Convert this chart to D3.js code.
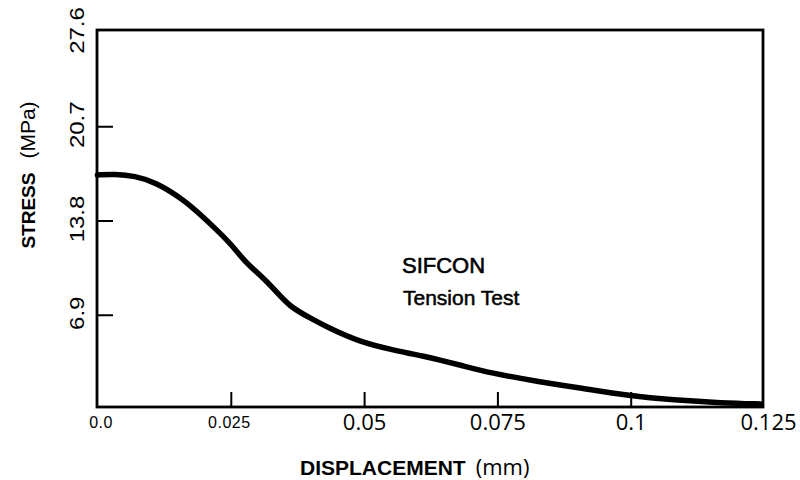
<!DOCTYPE html>
<html><head><meta charset="utf-8">
<script src="https://cdn.jsdelivr.net/npm/d3@7"></script>
<style>body{margin:0;background:#fff}svg{display:block}</style>
</head><body>
<svg id="c" width="800" height="480"></svg>
<script>
// Data
const displacement = [0, 0.0033, 0.0070, 0.0108, 0.0164, 0.0220, 0.0249, 0.0277, 0.0305, 0.0333, 0.0361, 0.0399, 0.0430, 0.0492, 0.0554, 0.0618, 0.0642, 0.0680, 0.0736, 0.0830, 0.0905, 0.0999, 0.1079, 0.1173, 0.1243];
const stress = [17.13, 17.20, 17.06, 16.62, 15.30, 13.25, 12.14, 10.76, 9.81, 8.71, 7.47, 6.66, 6.00, 4.90, 4.32, 3.81, 3.59, 3.22, 2.64, 1.98, 1.54, 0.95, 0.66, 0.44, 0.37];
const xTicks = [0, 0.025, 0.05, 0.075, 0.1, 0.125];
const xTickLabels = ["0.0", "0.025", "0.05", "0.075", "0.1", "0.125"];
const yTicks = [6.9, 13.8, 20.7, 27.6];
const yTickLabels = ["6.9", "13.8", "20.7", "27.6"];
const annotation = ["SIFCON", "Tension Test"];

const svg = d3.select("#c");
const x = d3.scaleLinear().domain([0, 0.125]).range([97.5, 764]);
const y = d3.scaleLinear().domain([0, 27.6]).range([409, 32]);

// frame
svg.append("rect").attr("x", 97).attr("y", 30).attr("width", 666).attr("height", 377)
  .attr("fill", "none").attr("stroke", "#000").attr("stroke-width", 2.8);

// x axis (inward ticks)
const xa = svg.append("g").attr("transform", "translate(0,407)")
  .call(d3.axisBottom(x).tickValues(xTicks).tickSize(-15).tickPadding(0)
    .tickFormat((d, i) => xTickLabels[i]));
xa.select(".domain").remove();
xa.selectAll(".tick line").attr("stroke", "#000").attr("stroke-width", 2)
  .attr("display", (d, i) => (i === 0 || i === xTicks.length - 1) ? "none" : null);
xa.selectAll(".tick text")
  .attr("fill", "#000")
  .attr("font-family", (d, i) => i < 2 ? "Liberation Sans, Arial, sans-serif" : "Open Sans, sans-serif")
  .attr("font-size", (d, i) => i < 2 ? 16 : 22)
  .attr("letter-spacing", (d, i) => i < 2 ? 0.5 : 0)
  .attr("dy", null)
  .attr("y", (d, i) => i < 2 ? 21 : 23)
  .attr("dx", (d, i) => i === 0 ? 3 : (i === 1 ? -2 : (i === 5 ? 4 : 0)));

// y axis (inward ticks, rotated labels)
const ya = svg.append("g").attr("transform", "translate(97,0)")
  .call(d3.axisLeft(y).tickValues(yTicks).tickSize(-16).tickPadding(0)
    .tickFormat((d, i) => yTickLabels[i]));
ya.select(".domain").remove();
ya.selectAll(".tick line").attr("stroke", "#000").attr("stroke-width", 2)
  .attr("display", (d, i) => i === yTicks.length - 1 ? "none" : null);
ya.selectAll(".tick text")
  .attr("fill", "#000")
  .attr("font-family", "Liberation Sans, Arial, sans-serif")
  .attr("font-size", 20)
  .attr("text-anchor", "middle")
  .attr("x", null).attr("dy", null)
  .attr("transform", "translate(-13,-2) rotate(-90) scale(1.2,1)");

// curve
svg.append("path")
  .datum(displacement.map((d, i) => [d, stress[i]]))
  .attr("fill", "none").attr("stroke", "#000").attr("stroke-width", 5.5)
  .attr("stroke-linejoin", "round").attr("stroke-linecap", "round")
  .attr("d", d3.line().x(d => x(d[0])).y(d => y(d[1])).curve(d3.curveBasis));

// annotation
svg.append("text").attr("x", 402).attr("y", 273)
  .attr("font-family", "Liberation Sans, Arial, sans-serif").attr("font-size", 22)
  .attr("fill", "#000").attr("stroke", "#000").attr("stroke-width", 0.6).text(annotation[0]);
svg.append("text").attr("x", 403).attr("y", 305)
  .attr("font-family", "Liberation Sans, Arial, sans-serif").attr("font-size", 21)
  .attr("fill", "#000").attr("stroke", "#000").attr("stroke-width", 0.5).text(annotation[1]);

// axis titles
const yt = svg.append("text").attr("transform", "translate(35,175) rotate(-90)")
  .attr("text-anchor", "middle").attr("font-family", "Liberation Sans, Arial, sans-serif")
  .attr("fill", "#000");
yt.append("tspan").attr("font-weight", "bold").attr("font-size", 19).text("STRESS");
yt.append("tspan").attr("font-size", 21).attr("dx", 14).text("(MPa)");

const xt = svg.append("text").attr("x", 300).attr("y", 475)
  .attr("font-family", "Liberation Sans, Arial, sans-serif").attr("fill", "#000");
xt.append("tspan").attr("font-weight", "bold").attr("font-size", 21).text("DISPLACEMENT");
xt.append("tspan").attr("font-size", 22).attr("font-family", "Open Sans, sans-serif").attr("dx", 10).text("(mm)");
</script>
</body></html>
